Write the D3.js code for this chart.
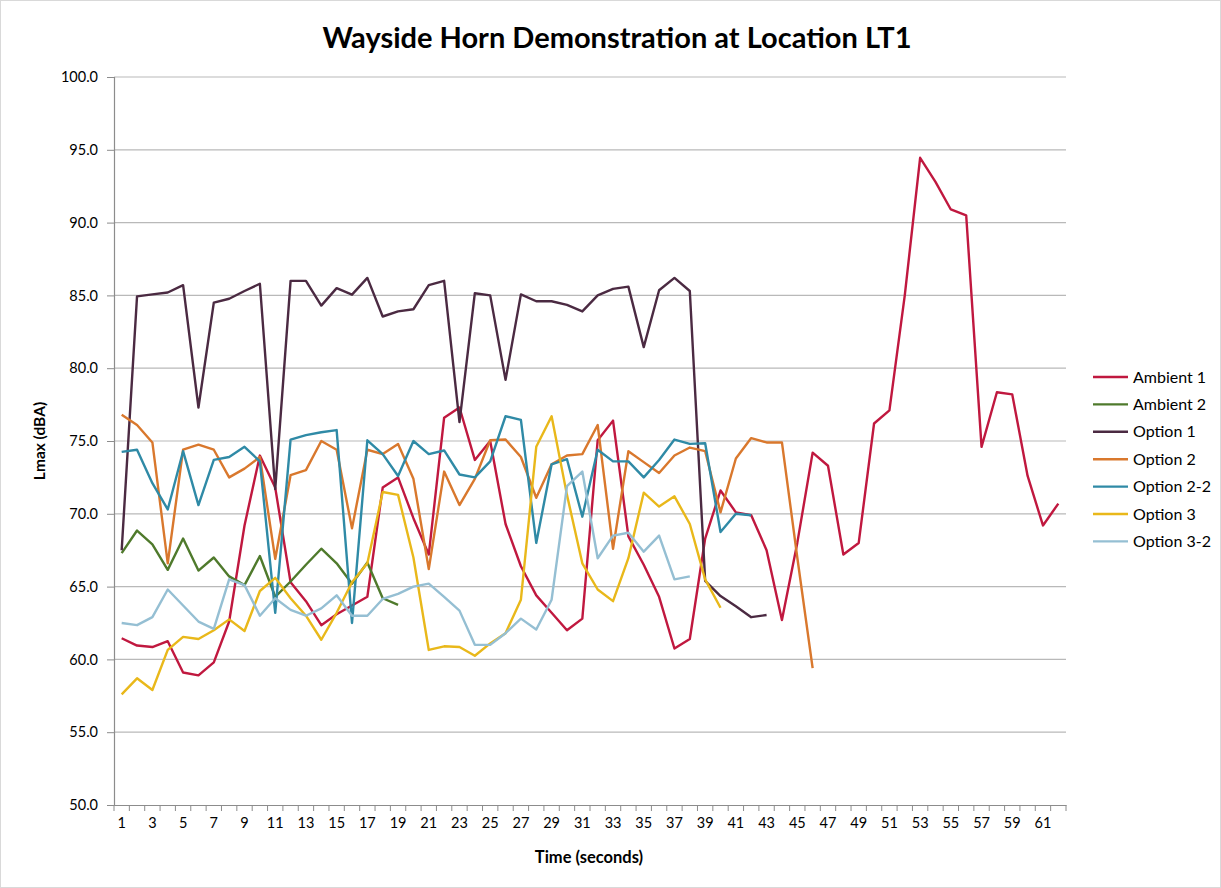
<!DOCTYPE html>
<html>
<head>
<meta charset="utf-8">
<script src="https://cdn.jsdelivr.net/npm/d3@7"></script>
<style>
  body { margin: 0; background: #fff; }
  text { font-family: Lato, "Open Sans", sans-serif; fill: #000; }
</style>
</head>
<body>
<div id="chart"></div>
<script>
// time in seconds, 1..62
var seconds = d3.range(1, 63);

// Lmax readings (dBA) per second
var ambient1 = [61.45, 60.95, 60.85, 61.25, 59.1, 58.9, 59.8, 62.6, 69.2, 74.0,
                71.8, 65.3, 64.0, 62.35, 63.1, 63.7, 64.3, 71.8, 72.5, 69.7,
                67.2, 76.6, 77.3, 73.7, 75.0, 69.3, 66.4, 64.4, 63.2, 62.0,
                62.8, 75.05, 76.4, 68.45, 66.5, 64.3, 60.75, 61.4, 68.3, 71.6,
                70.1, 69.9, 67.5, 62.7, 68.0, 74.2, 73.3, 67.2, 68.0, 76.2,
                77.1, 85.0, 94.45, 92.8, 90.9, 90.5, 74.6, 78.35, 78.2, 72.6,
                69.2, 70.7];
var ambient2 = [67.3, 68.85, 67.9, 66.15, 68.3, 66.1, 67.0, 65.7, 65.1, 67.1,
                64.3, 65.35, 66.5, 67.6, 66.6, 65.2, 66.65, 64.2, 63.75];
var option1  = [67.5, 84.93, 85.07, 85.2, 85.7, 77.3, 84.5, 84.77, 85.3, 85.8,
                71.7, 86.0, 86.0, 84.3, 85.5, 85.05, 86.2, 83.55, 83.9, 84.05,
                85.7, 86.0, 76.3, 85.15, 85.0, 79.2, 85.07, 84.6, 84.6, 84.35,
                83.9, 85.0, 85.45, 85.6, 81.45, 85.35, 86.2, 85.3, 65.4, 64.35,
                63.65, 62.9, 63.05];
var option2  = [76.8, 76.1, 74.9, 66.6, 74.4, 74.75, 74.4, 72.5, 73.1, 73.9,
                66.9, 72.65, 73.0, 75.0, 74.4, 69.0, 74.4, 74.1, 74.8, 72.4,
                66.2, 72.9, 70.6, 72.4, 75.05, 75.1, 73.9, 71.1, 73.4, 74.0,
                74.1, 76.1, 67.6, 74.3, 73.55, 72.8, 74.0, 74.55, 74.3, 70.1,
                73.8, 75.2, 74.9, 74.9, 67.0, 59.4];
var option2b = [74.25, 74.4, 72.1, 70.3, 74.3, 70.6, 73.7, 73.9, 74.6, 73.6,
                63.2, 75.1, 75.4, 75.6, 75.75, 62.5, 75.05, 74.1, 72.6, 75.0,
                74.1, 74.35, 72.7, 72.5, 73.6, 76.7, 76.45, 68.0, 73.4, 73.75,
                69.8, 74.4, 73.6, 73.6, 72.5, 73.7, 75.1, 74.8, 74.85, 68.75,
                70.0, 69.9];
var option3  = [57.6, 58.7, 57.9, 60.65, 61.55, 61.4, 62.0, 62.75, 61.95, 64.7,
                65.6, 64.2, 63.0, 61.35, 63.2, 65.3, 66.6, 71.5, 71.3, 67.0,
                60.65, 60.9, 60.85, 60.25, 61.1, 61.8, 64.1, 74.6, 76.7, 71.3,
                66.6, 64.8, 64.0, 66.95, 71.45, 70.5, 71.2, 69.3, 65.5, 63.55];
var option3b = [62.5, 62.35, 62.9, 64.8, 63.7, 62.6, 62.1, 65.5, 65.1, 63.0,
                64.2, 63.4, 63.0, 63.5, 64.4, 63.0, 63.0, 64.15, 64.5, 65.0,
                65.2, 64.3, 63.35, 61.0, 61.0, 61.8, 62.8, 62.05, 64.1, 71.9,
                72.9, 66.95, 68.5, 68.7, 67.4, 68.5, 65.5, 65.7];

var seriesNames  = ['Ambient 1', 'Ambient 2', 'Option 1', 'Option 2', 'Option 2-2', 'Option 3', 'Option 3-2'];
var seriesValues = [ambient1, ambient2, option1, option2, option2b, option3, option3b];
var seriesColors = ['#c0183f', '#4f7a2c', '#4b2a42', '#d9782d', '#2f8aa6', '#e9b81a', '#95bfd3'];

var yTicks = d3.range(50, 100.1, 5);

function main(){
    var W = 1221, H = 888;
    var plot = { left: 114, right: 1066, top: 77, bottom: 805 };

    var svg = d3.select('#chart').append('svg')
                .attr('width', W)
                .attr('height', H);

    // chart border
    svg.append('rect')
       .attr('x', 0.5).attr('y', 0.5)
       .attr('width', W - 1).attr('height', H - 1)
       .attr('fill', '#fff')
       .attr('stroke', '#d9d9d9');

    var x = d3.scaleBand()
              .domain(seconds)
              .range([plot.left, plot.right]);
    var y = d3.scaleLinear()
              .domain([50, 100])
              .range([plot.bottom, plot.top]);
    var cx = function(d){ return x(d) + x.bandwidth() / 2; };

    // gridlines
    svg.append('g').selectAll('line')
       .data(yTicks.slice(1))
     .enter().append('line')
       .attr('x1', plot.left).attr('x2', plot.right)
       .attr('y1', function(d){ return y(d); })
       .attr('y2', function(d){ return y(d); })
       .attr('stroke', '#b9b9b9')
       .attr('stroke-width', 1.2);

    // y axis
    var yAxis = svg.append('g')
       .attr('transform', 'translate(' + plot.left + ',0)')
       .call(d3.axisLeft(y).tickValues(yTicks).tickFormat(d3.format('.1f')).tickSize(7).tickPadding(9));
    yAxis.select('.domain').attr('stroke', '#8c8c8c').attr('stroke-width', 1.2);
    yAxis.selectAll('.tick line').attr('stroke', '#8c8c8c');
    yAxis.selectAll('text').style('font-size', '14.5px').style('font-family', 'Lato, sans-serif').attr('fill', '#000');

    // x axis: ticks on category boundaries, label every other second
    var xAxis = svg.append('g')
       .attr('transform', 'translate(0,' + plot.bottom + ')')
       .call(d3.axisBottom(x).tickValues(seconds.filter(function(d){ return d % 2 === 1; })).tickSize(0).tickPadding(13));
    xAxis.select('.domain').attr('stroke', '#8c8c8c').attr('stroke-width', 1.2);
    xAxis.selectAll('text').style('font-size', '14.5px').style('font-family', 'Lato, sans-serif').attr('fill', '#000');
    xAxis.selectAll('.bound')
       .data(seconds.concat([63]))
     .enter().append('line')
       .attr('class', 'bound')
       .attr('x1', function(d){ return d <= 62 ? x(d) : plot.right; })
       .attr('x2', function(d){ return d <= 62 ? x(d) : plot.right; })
       .attr('y1', 0).attr('y2', 6)
       .attr('stroke', '#8c8c8c');

    // lines
    var line = d3.line()
                 .x(function(d, i){ return cx(seconds[i]); })
                 .y(function(d){ return y(d); });

    svg.append('g').selectAll('path')
       .data(seriesValues)
     .enter().append('path')
       .attr('d', line)
       .attr('fill', 'none')
       .attr('stroke', function(d, i){ return seriesColors[i]; })
       .attr('stroke-width', 2.4)
       .attr('stroke-linejoin', 'round');

    // title
    svg.append('text')
       .attr('x', 617).attr('y', 48)
       .attr('text-anchor', 'middle')
       .style('font-size', '29px').style('font-weight', 'bold')
       .text('Wayside Horn Demonstration at Location LT1');

    // axis titles
    svg.append('text')
       .attr('x', 589).attr('y', 863)
       .attr('text-anchor', 'middle')
       .style('font-size', '16.5px').style('font-weight', 'bold')
       .text('Time (seconds)');
    svg.append('text')
       .attr('transform', 'translate(45,441) rotate(-90)')
       .attr('text-anchor', 'middle')
       .style('font-size', '15.5px').style('font-weight', 'bold')
       .text('Lmax (dBA)');

    // legend
    var legend = svg.append('g').selectAll('g')
       .data(seriesNames)
     .enter().append('g')
       .attr('transform', function(d, i){ return 'translate(1093,' + (377 + i * 27.4) + ')'; });
    legend.append('line')
       .attr('x1', 0).attr('x2', 35)
       .attr('stroke', function(d, i){ return seriesColors[i]; })
       .attr('stroke-width', 2.4);
    legend.append('text')
       .attr('x', 40).attr('y', 5.5)
       .style('font-size', '16px')
       .text(function(d){ return d; });
}

main();
</script>
</body>
</html>
